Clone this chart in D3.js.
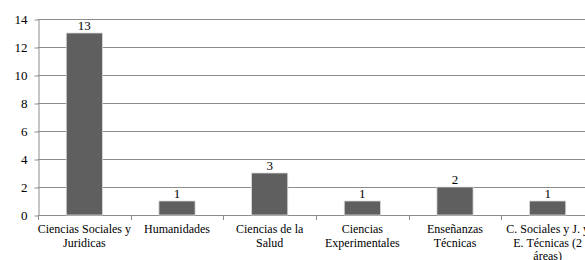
<!DOCTYPE html>
<html>
<head>
<meta charset="utf-8">
<script src="https://cdn.jsdelivr.net/npm/d3@7"></script>
<style>
  body { margin: 0; background: #fff; }
</style>
</head>
<body>
<svg width="585" height="260" font-family="Liberation Serif"></svg>
<script>
var categories = [
  ["Ciencias Sociales y", "Juridicas"],
  ["Humanidades"],
  ["Ciencias de la", "Salud"],
  ["Ciencias", "Experimentales"],
  ["Enseñanzas", "Técnicas"],
  ["C. Sociales y J. y", "E. Técnicas (2", "áreas)"]
];
var values = [13, 1, 3, 1, 2, 1];
var yTicks = [0, 2, 4, 6, 8, 10, 12, 14];

var svg = d3.select("svg");
var plotLeft = 38, plotTop = 19, plotBottom = 215, plotRight = 594;
var serif = "Liberation Serif";

var x = d3.scaleBand()
    .domain(d3.range(categories.length))
    .range([plotLeft, plotRight])
    .paddingInner(0.61)
    .paddingOuter(0.305);

var y = d3.scaleLinear().domain([0, 14]).range([plotBottom, plotTop]);

// gridlines
svg.append("g")
  .selectAll("line")
  .data(yTicks.slice(1))
  .enter().append("line")
    .attr("x1", plotLeft).attr("x2", 585)
    .attr("y1", function(d) { return Math.round(y(d)) + 0.5; })
    .attr("y2", function(d) { return Math.round(y(d)) + 0.5; })
    .attr("stroke", "#8c8c8c")
    .attr("stroke-width", 1);

// y axis
var yAxis = svg.append("g")
    .attr("transform", "translate(" + (plotLeft + 0.5) + ",0.5)")
    .call(d3.axisLeft(y).tickValues(yTicks).tickSize(4).tickSizeOuter(0));
yAxis.attr("font-family", serif).attr("font-size", 13);
yAxis.select(".domain").attr("stroke", "#8c8c8c");
yAxis.selectAll(".tick line").attr("stroke", "#8c8c8c");
yAxis.selectAll("text")
    .attr("x", -11)
    .attr("fill", "#000")
    .attr("font-family", serif)
    .attr("font-size", 13);

// x axis baseline with category boundary ticks
var step = x.step();
svg.append("line")
    .attr("x1", plotLeft).attr("x2", 585)
    .attr("y1", plotBottom + 0.5).attr("y2", plotBottom + 0.5)
    .attr("stroke", "#8c8c8c");
svg.append("g")
  .selectAll("line")
  .data(d3.range(categories.length + 1))
  .enter().append("line")
    .attr("x1", function(i) { return Math.round(plotLeft + i * step) + 0.5; })
    .attr("x2", function(i) { return Math.round(plotLeft + i * step) + 0.5; })
    .attr("y1", plotBottom).attr("y2", plotBottom + 5)
    .attr("stroke", "#8c8c8c");

// bars
svg.append("g")
  .selectAll("rect")
  .data(values)
  .enter().append("rect")
    .attr("x", function(d, i) { return x(i); })
    .attr("y", function(d) { return y(d); })
    .attr("width", x.bandwidth())
    .attr("height", function(d) { return y(0) - y(d); })
    .attr("fill", "#5f5f5f")
    .attr("stroke", "#d9d9d9")
    .attr("stroke-width", 0.8);

// value labels
svg.append("g")
  .selectAll("text")
  .data(values)
  .enter().append("text")
    .attr("x", function(d, i) { return x(i) + x.bandwidth() / 2; })
    .attr("y", function(d) { return y(d) - 3; })
    .attr("text-anchor", "middle")
    .attr("font-family", serif)
    .attr("font-size", 13)
    .attr("fill", "#000")
    .text(function(d) { return d; });

// category labels
var cat = svg.append("g")
  .selectAll("text")
  .data(categories)
  .enter().append("text")
    .attr("text-anchor", "middle")
    .attr("font-family", serif)
    .attr("font-size", 12)
    .attr("fill", "#000");
cat.each(function(lines, i) {
  var t = d3.select(this);
  lines.forEach(function(s, j) {
    t.append("tspan")
      .attr("x", x(i) + x.bandwidth() / 2)
      .attr("y", 233 + j * 13.5)
      .text(s);
  });
});
</script>
</body>
</html>
